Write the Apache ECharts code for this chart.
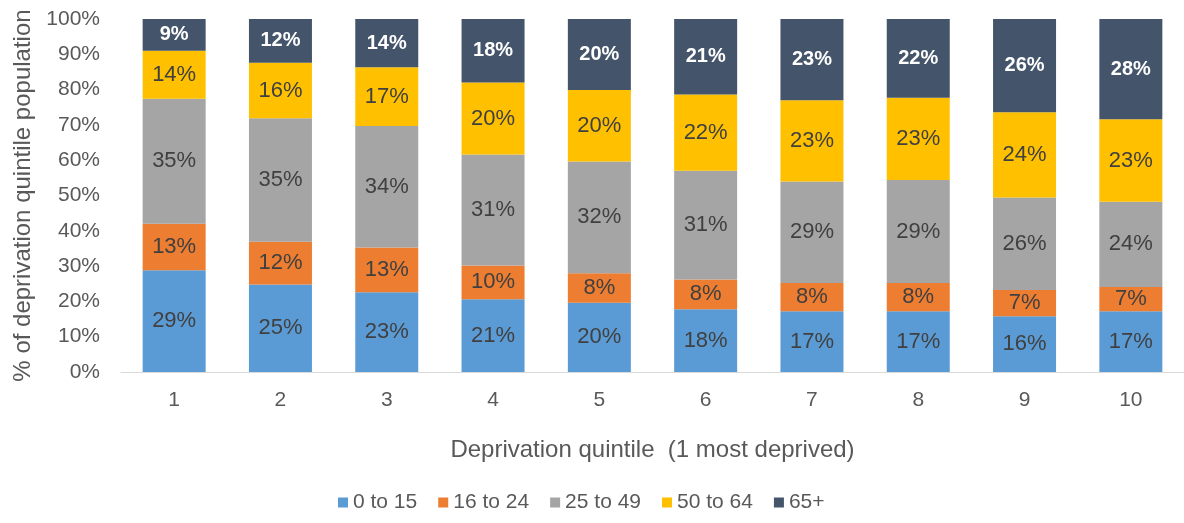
<!DOCTYPE html>
<html>
<head>
<meta charset="utf-8">
<script src="https://cdn.jsdelivr.net/npm/echarts@6/dist/echarts.min.js"></script>
<style>
  html, body { margin: 0; padding: 0; background: #fff; }
  #main { width: 1184px; height: 523px; }
</style>
</head>
<body>
<div id="main"></div>
<script>
var categories = ['1', '2', '3', '4', '5', '6', '7', '8', '9', '10'];
var seriesNames = ['0 to 15', '16 to 24', '25 to 49', '50 to 64', '65+'];
var age0to15 = [28.8, 24.8, 22.6, 20.6, 19.6, 17.8, 17.2, 17.2, 15.8, 17.2];
var age16to24 = [13.2, 12.1, 12.7, 9.6, 8.4, 8.4, 8.0, 8.0, 7.4, 6.9];
var age25to49 = [35.4, 35.0, 34.4, 31.4, 31.6, 30.8, 28.8, 29.2, 26.2, 24.1];
var age50to64 = [13.6, 15.7, 16.6, 20.4, 20.3, 21.6, 23.0, 23.3, 24.2, 23.4];
var age65plus = [9.0, 12.4, 13.7, 18.0, 20.1, 21.4, 23.0, 22.3, 26.4, 28.4];
var yTicks = [0, 10, 20, 30, 40, 50, 60, 70, 80, 90, 100];

var font = 'Liberation Sans, Arial, sans-serif';
var colors = ['#5B9BD5', '#ED7D31', '#A5A5A5', '#FFC000', '#44546A'];
var allData = [age0to15, age16to24, age25to49, age50to64, age65plus];

var myChart = echarts.init(document.getElementById('main'));

var series = allData.map(function (d, i) {
    var last = i === allData.length - 1;
    return {
        name: seriesNames[i],
        type: 'bar',
        stack: 'total',
        barWidth: 63,
        itemStyle: { color: colors[i] },
        label: {
            show: true,
            position: 'inside',
            fontFamily: font,
            fontSize: last ? 20 : 22,
            fontWeight: last ? 'bold' : 'normal',
            color: last ? '#ffffff' : '#404040',
            formatter: function (p) { return Math.round(p.value) + '%'; }
        },
        data: d
    };
});

var option = {
    animation: false,
    color: colors,
    textStyle: { fontFamily: font },
    grid: {
        left: 121,
        right: -3,
        top: 19,
        bottom: 151,
        containLabel: false
    },
    legend: {
        data: seriesNames,
        left: 333,
        top: 487,
        icon: 'rect',
        itemWidth: 10,
        itemHeight: 10,
        itemGap: 21,
        textStyle: { fontFamily: font, fontSize: 21, color: '#595959' }
    },
    xAxis: {
        type: 'category',
        data: categories,
        name: 'Deprivation quintile  (1 most deprived)',
        nameLocation: 'middle',
        nameGap: 66,
        nameTextStyle: { fontFamily: font, fontSize: 24, color: '#595959' },
        axisLine: { lineStyle: { color: '#D9D9D9', width: 1 } },
        axisTick: { show: false },
        axisLabel: { fontFamily: font, fontSize: 21, color: '#595959', margin: 18 }
    },
    yAxis: {
        type: 'value',
        min: yTicks[0],
        max: yTicks[yTicks.length - 1],
        interval: 10,
        name: '% of deprivation quintile population',
        nameLocation: 'middle',
        nameGap: 86,
        nameTextStyle: { fontFamily: font, fontSize: 24, color: '#595959' },
        axisLine: { show: false },
        axisTick: { show: false },
        splitLine: { show: false },
        axisLabel: { fontFamily: font, fontSize: 21, color: '#595959', margin: 21, formatter: '{value}%' }
    },
    series: series
};
myChart.setOption(option);
</script>
</body>
</html>
